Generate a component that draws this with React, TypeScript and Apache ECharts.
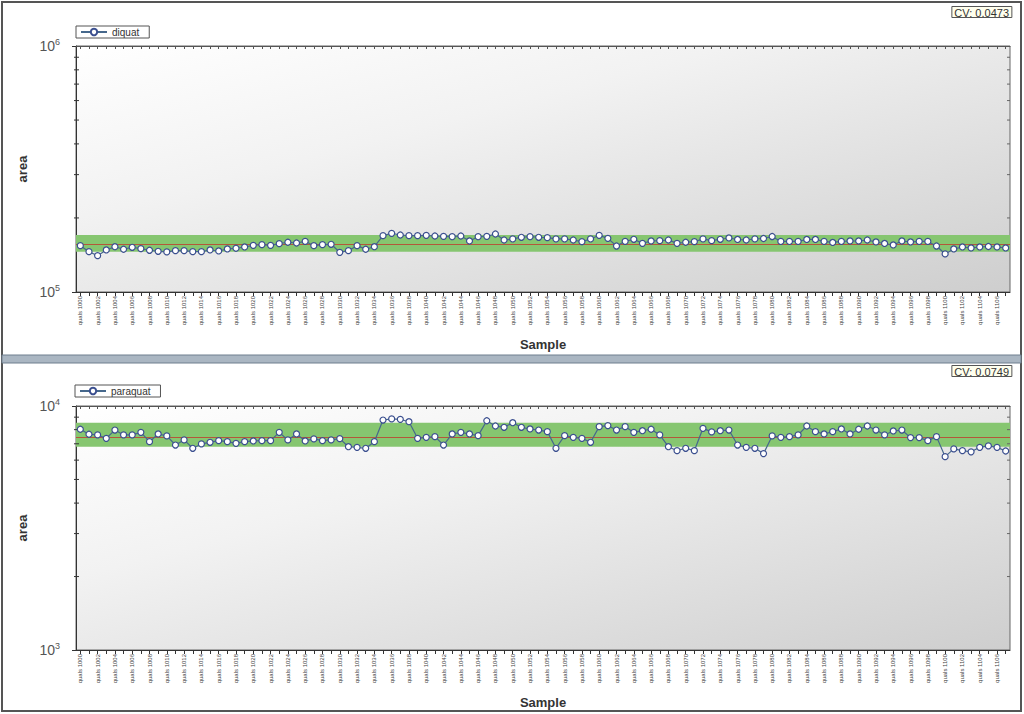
import React, { useEffect, useRef } from "react";
import * as echarts from "echarts";

const samples = [
  "quals 1000","quals 1001","quals 1002","quals 1003","quals 1004","quals 1005","quals 1006","quals 1007","quals 1008","quals 1009",
  "quals 1010","quals 1011","quals 1012","quals 1013","quals 1014","quals 1015","quals 1016","quals 1017","quals 1018","quals 1019",
  "quals 1020","quals 1021","quals 1022","quals 1023","quals 1024","quals 1025","quals 1026","quals 1027","quals 1028","quals 1029",
  "quals 1030","quals 1031","quals 1032","quals 1033","quals 1034","quals 1035","quals 1036","quals 1037","quals 1038","quals 1039",
  "quals 1040","quals 1041","quals 1042","quals 1043","quals 1044","quals 1045","quals 1046","quals 1047","quals 1048","quals 1049",
  "quals 1050","quals 1051","quals 1052","quals 1053","quals 1054","quals 1055","quals 1056","quals 1057","quals 1058","quals 1059",
  "quals 1060","quals 1061","quals 1062","quals 1063","quals 1064","quals 1065","quals 1066","quals 1067","quals 1068","quals 1069",
  "quals 1070","quals 1071","quals 1072","quals 1073","quals 1074","quals 1075","quals 1076","quals 1077","quals 1078","quals 1079",
  "quals 1080","quals 1081","quals 1082","quals 1083","quals 1084","quals 1085","quals 1086","quals 1087","quals 1088","quals 1089",
  "quals 1090","quals 1091","quals 1092","quals 1093","quals 1094","quals 1095","quals 1096","quals 1097","quals 1098","quals 1099",
  "quals 1100","quals 1101","quals 1102","quals 1103","quals 1104","quals 1105","quals 1106","quals 1107",
];

const diquatValues = [
  154300,145900,140500,148200,152800,149200,152000,150000,147800,146400,
  145500,147200,147200,145900,145900,148200,146800,149600,150600,152400,
  154800,155700,154800,157200,159300,158200,160700,154300,155700,156300,
  145000,147200,154300,149200,152800,169400,173200,170500,169400,169400,
  170000,168900,168400,167800,168900,161200,167800,168400,172100,162700,
  164300,166900,167800,166900,166300,164300,164300,162700,160200,164300,
  170000,165200,153800,160700,163800,157700,161200,161700,162700,157700,
  159300,160200,164300,161700,163800,165800,163500,162700,164300,165000,
  168100,160500,160500,160500,163500,163500,160500,159000,160500,161200,
  161200,162700,159700,157500,155300,161200,159700,160500,160500,
  153800,142800,149600,152400,151000,152400,153100,152400,151000,
];

const paraquatValues = [
  8030,7660,7610,7370,7970,7610,7610,7800,7140,7680,
  7540,6920,7260,6710,6990,7100,7210,7140,7030,7140,
  7190,7210,7210,7800,7260,7680,7190,7330,7210,7260,
  7350,6810,6770,6710,7140,8760,8850,8820,8620,7370,
  7440,7490,6920,7680,7800,7680,7560,8700,8280,8180,
  8540,8180,8050,7970,7850,6710,7560,7440,7370,7100,
  8230,8310,7970,8230,7800,7920,8030,7610,6810,6560,
  6710,6560,8100,7830,7920,7970,6920,6770,6710,6380,
  7540,7440,7490,7610,8280,7850,7680,7850,8050,7680,
  8030,8280,7970,7610,7900,7970,7420,7420,7210,7490,
  6200,6670,6560,6490,6770,6860,6770,6540,
];

const diquatBand = [145800, 170500];
const diquatMean = [156300];
const paraquatBand = [6810, 8540];
const paraquatMean = [7440];
const cvLabels = ["CV: 0.0473", "CV: 0.0749"];
const diquatRange = [100000, 1000000];
const paraquatRange = [1000, 10000];
const diquatMinorTicks = [200000, 300000, 400000, 500000, 600000, 700000, 800000, 900000];
const paraquatMinorTicks = [2000, 3000, 4000, 5000, 6000, 7000, 8000, 9000];

const FONT = "'Liberation Sans', Arial, sans-serif";

function yAxisFor(gridIndex: number, range: number[]) {
  return {
    type: "log",
    logBase: 10,
    gridIndex,
    min: range[0],
    max: range[1],
    name: "area",
    nameLocation: "middle",
    nameRotate: 90,
    nameGap: 46,
    nameTextStyle: { fontSize: 13, fontWeight: "bold", color: "#333", fontFamily: FONT },
    axisLine: { show: true, lineStyle: { color: "#333", width: 1 } },
    axisTick: { show: true, length: 4, lineStyle: { color: "#333" } },
    splitLine: { show: false },
    axisLabel: {
      margin: 16,
      formatter: (v: number) => `{b|10}{s|${Math.round(Math.log10(v))}}`,
      rich: {
        b: { fontSize: 14, color: "#555", fontFamily: FONT, lineHeight: 18 },
        s: { fontSize: 9, color: "#555", fontFamily: FONT, padding: [0, 0, 9, 0] },
      },
    },
  };
}

function xAxesFor(gridIndex: number) {
  return [
    {
      type: "category",
      gridIndex,
      data: samples,
      boundaryGap: true,
      position: "bottom",
      name: "Sample",
      nameLocation: "middle",
      nameGap: 46,
      nameTextStyle: { fontSize: 13, fontWeight: "bold", color: "#333", fontFamily: FONT },
      axisLine: { show: true, lineStyle: { color: "#333" } },
      axisTick: { show: true, interval: 0, alignWithLabel: true, length: 4, lineStyle: { color: "#333" } },
      axisLabel: { rotate: 90, interval: 1, fontSize: 6, color: "#444", margin: 4, fontFamily: FONT },
      splitLine: { show: false },
    },
    {
      type: "category",
      gridIndex,
      data: samples,
      boundaryGap: true,
      position: "top",
      axisLine: { show: true, lineStyle: { color: "#555" } },
      axisTick: { show: true, inside: true, interval: 0, alignWithLabel: true, length: 3, lineStyle: { color: "#555" } },
      axisLabel: { show: false },
      splitLine: { show: false },
    },
  ];
}

function minorTickSeries(xIdx: number, yIdx: number, ticks: number[]) {
  return {
    type: "custom",
    xAxisIndex: xIdx,
    yAxisIndex: yIdx,
    silent: true,
    data: ticks.map((t) => [0, t]),
    renderItem: (params: any, api: any) => {
      const y = api.coord([0, api.value(1)])[1];
      const cs = params.coordSys;
      return {
        type: "group",
        children: [
          { type: "line", shape: { x1: cs.x - 2, y1: y, x2: cs.x + 3, y2: y }, style: { stroke: "#333", lineWidth: 1 } },
          { type: "line", shape: { x1: cs.x + cs.width - 3, y1: y, x2: cs.x + cs.width, y2: y }, style: { stroke: "#666", lineWidth: 1 } },
        ],
      };
    },
  };
}

function qcSeries(name: string, xIdx: number, yIdx: number, values: number[], band: number[], mean: number[]) {
  return {
    type: "line",
    name,
    xAxisIndex: xIdx,
    yAxisIndex: yIdx,
    data: values,
    symbol: "circle",
    symbolSize: 6,
    showSymbol: true,
    showAllSymbol: true,
    lineStyle: { color: "#46688c", width: 1.2 },
    itemStyle: { color: "#ffffff", borderColor: "#3b4f8f", borderWidth: 1.2 },
    z: 5,
    markArea: {
      silent: true,
      itemStyle: { color: "#86c670" },
      data: [[{ yAxis: band[0] }, { yAxis: band[1] }]],
    },
    markLine: {
      silent: true,
      symbol: "none",
      label: { show: false },
      lineStyle: { color: "#b4573a", width: 1.2, type: "solid" },
      data: [{ yAxis: mean[0] }],
      z: 3,
    },
  };
}

const gridBg = () =>
  new echarts.graphic.LinearGradient(0, 0, 1, 1, [
    { offset: 0, color: "#ffffff" },
    { offset: 0.35, color: "#f2f2f2" },
    { offset: 1, color: "#cecece" },
  ]);

const legendStyle = {
  itemWidth: 26,
  itemHeight: 8,
  borderColor: "#555",
  borderWidth: 1,
  backgroundColor: "#ffffff",
  padding: [1, 10, 1, 4],
  textStyle: { fontSize: 10, color: "#333", fontFamily: FONT },
  itemGap: 4,
};

const cvTitle = (text: string, top: number) => ({
  text,
  right: 12,
  top,
  padding: [1, 3, 0, 3],
  borderColor: "#555",
  borderWidth: 1,
  backgroundColor: "#ffffee",
  textStyle: { fontSize: 11, fontWeight: "normal", color: "#333", fontFamily: FONT },
});

export default function App() {
  const ref = useRef<HTMLDivElement>(null);
  useEffect(() => {
    if (!ref.current) return;
    const chart = echarts.init(ref.current, null, { renderer: "svg" });
    chart.setOption({
      animation: false,
      backgroundColor: "#ffffff",
      textStyle: { fontFamily: FONT },
      title: [cvTitle(cvLabels[0], 6), cvTitle(cvLabels[1], 365)],
      legend: [
        { ...legendStyle, data: ["diquat"], left: 76, top: 26 },
        { ...legendStyle, data: ["paraquat"], left: 75, top: 385 },
      ],
      grid: [
        { left: 76, right: 14, top: 46, height: 246, show: true, backgroundColor: gridBg(), borderColor: "#666", borderWidth: 1 },
        { left: 76, right: 14, top: 406, height: 244, show: true, backgroundColor: gridBg(), borderColor: "#666", borderWidth: 1 },
      ],
      xAxis: [...xAxesFor(0), ...xAxesFor(1)],
      yAxis: [yAxisFor(0, diquatRange), yAxisFor(1, paraquatRange)],
      series: [
        qcSeries("diquat", 0, 0, diquatValues, diquatBand, diquatMean),
        qcSeries("paraquat", 2, 1, paraquatValues, paraquatBand, paraquatMean),
        minorTickSeries(0, 0, diquatMinorTicks),
        minorTickSeries(2, 1, paraquatMinorTicks),
      ],
      graphic: [
        {
          type: "rect",
          shape: { x: 2, y: 2, width: 1019, height: 709 },
          style: { fill: "none", stroke: "#555", lineWidth: 2 },
          silent: true,
        },
        {
          type: "rect",
          shape: { x: 2, y: 355, width: 1019, height: 8 },
          style: { fill: "#aab6c2", stroke: "#6f7f8e", lineWidth: 1 },
          silent: true,
        },
      ],
    });
    return () => chart.dispose();
  }, []);
  return (
    <div
      ref={ref}
      style={{ position: "fixed", left: 0, top: 0, width: 1024, height: 714, background: "#fff" }}
    />
  );
}
